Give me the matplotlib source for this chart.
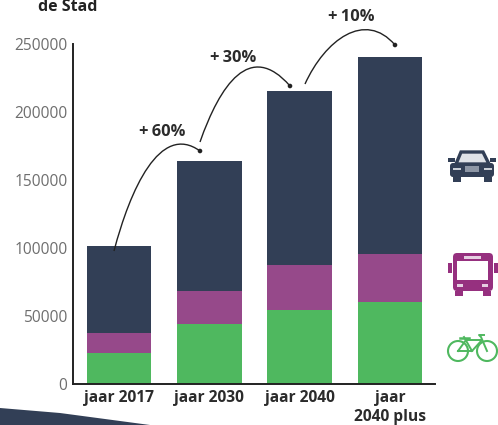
import matplotlib
matplotlib.use("Agg")
import matplotlib.pyplot as plt
from matplotlib.patches import Polygon, PathPatch, Rectangle, FancyBboxPatch, Circle
from matplotlib.path import Path

plt.rcParams['font.family'] = ['Open Sans', 'DejaVu Sans']

# Values
categories = ['jaar 2017', 'jaar 2030', 'jaar 2040', 'jaar\n2040 plus']
fiets = [23000, 44000, 54500, 60500]
ov = [14500, 24500, 33000, 35000]
auto = [64000, 95500, 128000, 145000]
yticks = [0, 50000, 100000, 150000, 200000, 250000]
groei = ['+\u200960%', '+\u200930%', '+\u200910%']

DARK = '#323f56'
PURPLE = '#96498a'
GREEN = '#4fb85f'
W, H = 498, 425

fig = plt.figure(figsize=(W / 100, H / 100), dpi=100)
ax = fig.add_axes([73 / W, 1 - 384 / H, (435 - 73) / W, 340 / H])

x = range(len(categories))
bottom2 = [a + b for a, b in zip(fiets, ov)]
ax.bar(x, fiets, width=0.715, color=GREEN)
ax.bar(x, ov, width=0.715, bottom=fiets, color=PURPLE)
ax.bar(x, auto, width=0.715, bottom=bottom2, color=DARK)

ax.set_xlim(-0.509, 3.496)
ax.set_ylim(0, 250000)
ax.set_yticks(yticks)
ax.set_xticks(list(x))
ax.set_xticklabels(categories, fontweight='bold', fontsize=11.2, color='#2b2b2b', linespacing=1.3)
ax.tick_params(axis='y', length=0, labelsize=11.2, labelcolor='#6e6e6e', pad=4)
ax.tick_params(axis='x', length=0, pad=4)
ax.spines['top'].set_visible(False)
ax.spines['right'].set_visible(False)
for s in ['left', 'bottom']:
    ax.spines[s].set_linewidth(1.4)
    ax.spines[s].set_color('#222222')

# Overlay in pixel coordinates for arrows, icons and decoration
ov_ax = fig.add_axes([0, 0, 1, 1], facecolor='none')
ov_ax.set_xlim(0, W)
ov_ax.set_ylim(H, 0)
ov_ax.axis('off')

ov_ax.text(38, 11, 'de Stad', fontweight='bold', fontsize=11.5, color='#222222', va='baseline')

# growth arcs
arcs = [
    [(114, 251), (130, 190), (160, 122), (200, 151)],
    [(200, 142), (220, 85), (250, 40), (290, 86)],
    [(305, 84), (325, 40), (365, 10), (395, 45)],
]
for pts in arcs:
    p = Path(pts, [Path.MOVETO, Path.CURVE4, Path.CURVE4, Path.CURVE4])
    ov_ax.add_patch(PathPatch(p, fc='none', ec='#222222', lw=1.0))
    ov_ax.add_patch(Circle(pts[-1], 1.6, color='#222222'))
for label, pos in zip(groei, [(162, 132), (233, 58), (351, 17)]):
    ov_ax.text(pos[0], pos[1], label, fontweight='bold', fontsize=11.8, color='#2b2b2b',
               ha='center', va='center')

# dark band bottom-left
ov_ax.add_patch(Polygon([(0, 408), (60, 413), (150, 425), (0, 425)], color=DARK, lw=0))


def draw_car(c):
    ov_ax.add_patch(Polygon([(456, 164), (461, 152), (483, 152), (489, 164)], fc='#dfe2e7', ec=c, lw=2.4))
    ov_ax.add_patch(FancyBboxPatch((450, 163), 44, 14, boxstyle='round,pad=0,rounding_size=3', color=c, lw=0))
    ov_ax.add_patch(Rectangle((448, 158), 7, 4, color=c, lw=0))
    ov_ax.add_patch(Rectangle((490, 158), 6, 4, color=c, lw=0))
    ov_ax.add_patch(Rectangle((453, 177), 8, 5, color=c, lw=0))
    ov_ax.add_patch(Rectangle((484, 177), 8, 5, color=c, lw=0))
    ov_ax.add_patch(Rectangle((465, 166), 14, 6, color='#8d96a5', lw=0))
    ov_ax.add_patch(Rectangle((453, 168), 8, 1.5, color='#c9ced6', lw=0))
    ov_ax.add_patch(Rectangle((484, 168), 8, 1.5, color='#c9ced6', lw=0))


def draw_bus(c):
    ov_ax.add_patch(FancyBboxPatch((453, 253), 40, 38, boxstyle='round,pad=0,rounding_size=4', color=c, lw=0))
    ov_ax.add_patch(Rectangle((457, 261), 31, 19, color='white', lw=0))
    ov_ax.add_patch(Rectangle((464, 256), 17, 3, color='#e6cfe2', lw=0))
    ov_ax.add_patch(Rectangle((448, 263), 4, 10, color=c, lw=0))
    ov_ax.add_patch(Rectangle((494, 263), 4, 10, color=c, lw=0))
    ov_ax.add_patch(Rectangle((455, 291), 8, 5, color=c, lw=0))
    ov_ax.add_patch(Rectangle((483, 291), 8, 5, color=c, lw=0))
    ov_ax.add_patch(Rectangle((457, 284), 6, 2.5, color='#e6cfe2', lw=0))
    ov_ax.add_patch(Rectangle((482, 284), 6, 2.5, color='#e6cfe2', lw=0))


def draw_bike(c):
    ov_ax.add_patch(Circle((458, 351), 10, fc='none', ec=c, lw=1.5))
    ov_ax.add_patch(Circle((487, 351), 10, fc='none', ec=c, lw=1.5))
    frame = [(458, 351), (466, 340), (482, 340), (472, 351), (458, 351)]
    ov_ax.plot(*zip(*frame), color=c, lw=1.4)
    ov_ax.plot([464, 472], [337, 351], color=c, lw=1.4)
    ov_ax.plot([487, 481, 479, 484], [351, 337, 335, 335], color=c, lw=1.4)
    ov_ax.plot([460, 469], [338, 338], color=c, lw=1.8)


draw_car(DARK)
draw_bus('#96307f')
draw_bike(GREEN)

fig.savefig('out.png', dpi=100)
